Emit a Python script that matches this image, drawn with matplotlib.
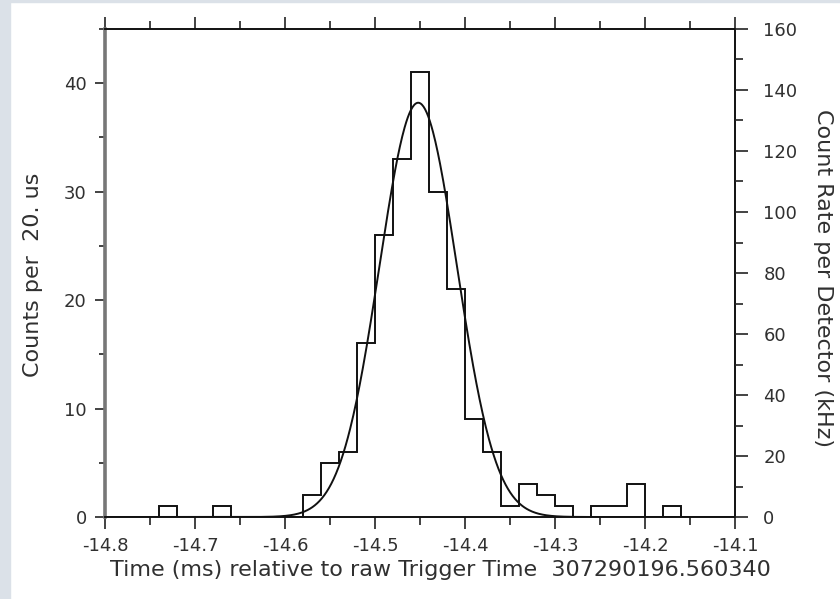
import numpy as np
import matplotlib.pyplot as plt
from matplotlib.patches import Rectangle
from matplotlib.ticker import MultipleLocator

plt.rcParams['font.family'] = ['DejaVu Sans']

# histogram: counts per 20 us bin, bins from -14.80 to -14.10 ms
bin_start = -14.80
bin_width = 0.02
counts = [0, 0, 0, 1, 0, 0, 1, 0, 0, 0,
          0, 2, 5, 6, 16, 26, 33, 41, 30, 21,
          9, 6, 1, 3, 2, 1, 0, 1, 1, 3,
          0, 1, 0, 0, 0]

# gaussian fit
fit_amp = 38.2
fit_mu = -14.452
fit_sigma = 0.043

x_range = (-14.8, -14.1)
left_max = 45
right_max = 160
xlabel = 'Time (ms) relative to raw Trigger Time  307290196.560340'
ylabel_left = 'Counts per  20. us'
ylabel_right = 'Count Rate per Detector (kHz)'

txt = '#303030'
W, H = 840, 599

fig = plt.figure(figsize=(8.4, 5.99), dpi=100)
fig.patch.set_facecolor('white')
# bluish strip at the left / top edge of the screenshot
fig.patches.append(Rectangle((0, 0), 10 / W, 1, transform=fig.transFigure,
                             color='#dbe1e8', zorder=-1))
fig.patches.append(Rectangle((0, 1 - 2 / H), 1, 2 / H, transform=fig.transFigure,
                             color='#dbe1e8', zorder=-1))

ax = fig.add_axes([105 / W, 1 - 517 / H, 630 / W, 488 / H])
edges = bin_start + bin_width * np.arange(len(counts) + 1)
ax.stairs(counts, edges, color='#111111', lw=1.4)

xs = np.linspace(x_range[0], x_range[1], 800)
ax.plot(xs, fit_amp * np.exp(-(xs - fit_mu) ** 2 / (2 * fit_sigma ** 2)),
        color='#111111', lw=1.4)

ax.set_xlim(*x_range)
ax.set_ylim(0, left_max)
ax.xaxis.set_major_locator(MultipleLocator(0.1))
ax.xaxis.set_minor_locator(MultipleLocator(0.05))
ax.yaxis.set_major_locator(MultipleLocator(10))
ax.yaxis.set_minor_locator(MultipleLocator(5))
ax.xaxis.set_major_formatter(lambda v, p: f'{v:.1f}')
ax.tick_params(which='both', direction='out', top=True, colors='#222222',
               labelcolor=txt, labelsize=13, width=1.2)
ax.tick_params(axis='x', which='major', length=8.6, pad=6)
ax.tick_params(axis='x', which='minor', length=5.8)
ax.tick_params(axis='y', which='major', length=7.2, pad=6)
ax.tick_params(axis='y', which='minor', length=4.3)

for side in ['top', 'bottom', 'right']:
    ax.spines[side].set_linewidth(1.4)
    ax.spines[side].set_color('#111111')
ax.spines['left'].set_linewidth(2.6)
ax.spines['left'].set_color('#777777')

ax2 = ax.twinx()
ax2.set_ylim(0, right_max)
ax2.yaxis.set_major_locator(MultipleLocator(20))
ax2.yaxis.set_minor_locator(MultipleLocator(10))
ax2.tick_params(which='both', direction='out', colors='#222222',
                labelcolor=txt, labelsize=13, width=1.2)
ax2.tick_params(which='major', length=9.4, pad=11)
ax2.tick_params(which='minor', length=5.8)
for s in ax2.spines.values():
    s.set_visible(False)

fig.text(440 / W, 1 - 570 / H, xlabel, fontsize=16, color=txt,
         ha='center', va='center')
fig.text(33 / W, 1 - 275 / H, ylabel_left, fontsize=16, color=txt,
         rotation=90, ha='center', va='center')
fig.text(823 / W, 1 - 278 / H, ylabel_right, fontsize=16, color=txt,
         rotation=270, ha='center', va='center')

fig.savefig('out.png', dpi=100)
